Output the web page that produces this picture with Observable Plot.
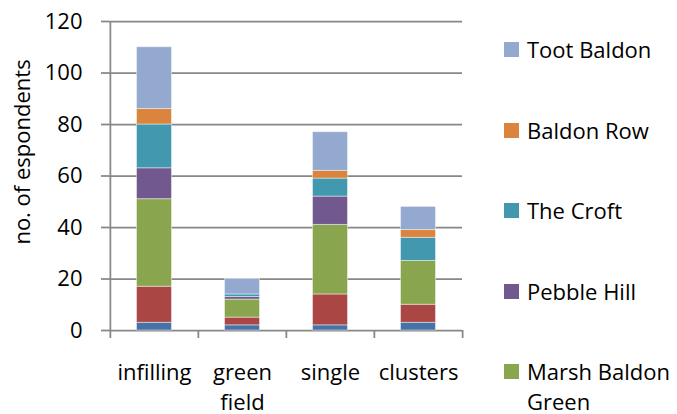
<!DOCTYPE html>
<html>
<head>
<meta charset="utf-8">
<script src="https://cdn.jsdelivr.net/npm/d3@7"></script>
<script src="https://cdn.jsdelivr.net/npm/@observablehq/plot@0.6"></script>
<style>
  html, body { margin: 0; padding: 0; background: #fff; overflow: hidden; }
  #chart { position: relative; width: 677px; height: 414px; font-family: "Open Sans", sans-serif; }
  #legend { position: absolute; left: 504px; top: 34px; }
  .item { position: absolute; left: 0; width: 173px; }
  .swatch { position: absolute; left: 0; top: 8px; width: 15px; height: 15px; }
  .name { position: absolute; left: 23px; width: 150px; font-size: 22px; line-height: 30px; color: #000; }
</style>
</head>
<body>
<div id="chart"><div id="legend"></div></div>
<script>
// Development type on the x axis, respondents per hamlet stacked bottom to top
const categories = ["infilling", "green field", "single", "clusters"];
const seriesNames = ["Series 1", "Series 2", "Marsh Baldon Green", "Pebble Hill", "The Croft", "Baldon Row", "Toot Baldon"];
const seriesColors = ["#4572A7", "#AA4643", "#89A54E", "#71588F", "#4198AF", "#DB843D", "#93A9CF"];
const series1 = [3, 2, 2, 3];
const series2 = [14, 3, 12, 7];
const marshBaldonGreen = [34, 7, 27, 17];
const pebbleHill = [12, 1, 11, 0];
const theCroft = [17, 1, 7, 9];
const baldonRow = [6, 0, 3, 3];
const tootBaldon = [24, 6, 15, 9];
const yTicks = [0, 20, 40, 60, 80, 100, 120];
const legendNames = ["Toot Baldon", "Baldon Row", "The Croft", "Pebble Hill", "Marsh Baldon Green"];

const seriesValues = [series1, series2, marshBaldonGreen, pebbleHill, theCroft, baldonRow, tootBaldon];
const rows = [];
seriesNames.forEach((s, si) => {
  categories.forEach((c, ci) => rows.push({category: c, series: s, value: seriesValues[si][ci]}));
});

const W = 677, H = 414;
const mL = 109, mR = 215, mT = 21, mB = 84;
const halfStep = (W - mL - mR) / categories.length / 2;
const axisColor = "#878787";
const fs = 22;

const plot = Plot.plot({
  width: W,
  height: H,
  marginLeft: mL,
  marginRight: mR,
  marginTop: mT,
  marginBottom: mB,
  style: {fontFamily: "Open Sans, sans-serif", fontSize: fs + "px", color: "#000", background: "#fff"},
  x: {domain: categories, padding: 0},
  y: {domain: [0, 120]},
  color: {domain: seriesNames, range: seriesColors},
  marks: [
    Plot.gridY(yTicks, {stroke: axisColor, strokeOpacity: 1, strokeWidth: 1.75}),
    Plot.barY(rows, Plot.stackY({
      x: "category", y: "value", fill: "series",
      insetLeft: 26.5, insetRight: 26.5,
      stroke: "#fff", strokeOpacity: 0.45, strokeWidth: 1
    })),
    Plot.ruleX([0], {x: () => categories[0], dx: -halfStep, y1: 0, y2: 120, stroke: axisColor, strokeWidth: 1.75}),
    Plot.axisY({ticks: yTicks, tickSize: 8, tickPadding: 19, stroke: axisColor, strokeWidth: 1.75, fontSize: fs, fill: "#000", label: null}),
    // boundary ticks between categories
    Plot.axisX({tickSize: 8, dx: -halfStep, tickFormat: () => "", stroke: axisColor, strokeWidth: 1.75, label: null}),
    Plot.axisX({ticks: [categories[categories.length - 1]], tickSize: 8, dx: halfStep, tickFormat: () => "", stroke: axisColor, strokeWidth: 1.75, label: null}),
    Plot.axisX({tickSize: 0, tickPadding: 28, tickFormat: d => d.replace(" ", "\n"), lineHeight: 30 / fs, fontSize: fs, fill: "#000", label: null}),
    Plot.text(["no. of espondents"], {frameAnchor: "left", textAnchor: "middle", rotate: -90, dx: -86.5, dy: -24, fontSize: fs, fill: "#000"})
  ]
});

const chart = document.getElementById("chart");
chart.insertBefore(plot, chart.firstChild);

const legend = document.getElementById("legend");
legendNames.forEach((name, i) => {
  const item = document.createElement("div");
  item.className = "item";
  item.style.top = (i * 80.6) + "px";
  const sw = document.createElement("div");
  sw.className = "swatch";
  sw.style.background = seriesColors[seriesNames.indexOf(name)];
  const label = document.createElement("div");
  label.className = "name";
  label.textContent = name;
  item.appendChild(sw);
  item.appendChild(label);
  legend.appendChild(item);
});
</script>
</body>
</html>
